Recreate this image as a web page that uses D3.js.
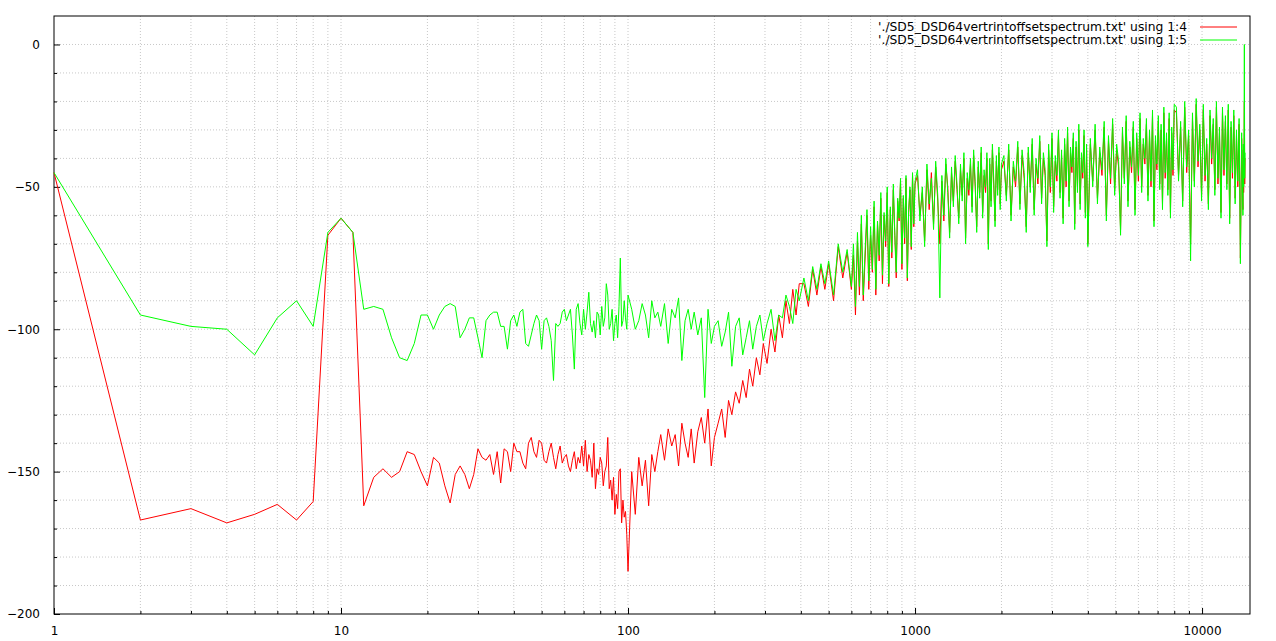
<!DOCTYPE html>
<html><head><meta charset="utf-8">
<script src="https://cdn.jsdelivr.net/npm/d3@7"></script>
<style>body{margin:0;background:#fff}text{font-family:"DejaVu Sans",sans-serif;font-size:12px}</style>
</head><body><svg id="c" width="1276" height="641"></svg>
<script>
// frequency bins, low part (shared by both series)
let freqLow = [
  1,2,3,4,5,6,7,8,9,10, 11,12,13,14,15,16,17,18,19,20,
  21,22,23,24,25,26,27,28,29,30, 31,32,33,34,35,36,37,38,39,40,
  41,42,43,44,45,46,47,48,49,50, 51,52,53,54,55,56,57,58,59,60,
  61,62,63,64,65,66,67,68,69,70, 71,72,73,74,75,76,77,78,79,80,
  81,82,83,84,85,86,87,88,89,90, 91,92,93,94,95,96,97,98,99,100,
  103,106,109,112,115,118,121,124,127,130, 134,138,142,146,150,154,158,162,166,170,
  175,180,185,190,195,200,206,212,218,224, 230,237,244,251,258,265,272,280,288,296,
  305,315,325,335,345,355,365,375,385,395, 410,425,440,455,470,485,500,520,540,560,
  580,600
];
// dense part
let freqHigh = [
  610,620,630,640,650,660,670,680,690,700, 710,720,730,740,750,760,770,780,790,800,
  810,820,830,840,850,860,870,880,890,900, 910,920,930,940,950,960,970,980,990,1000,
  1020,1040,1060,1080,1100,1120,1140,1160,1180,1200, 1220,1240,1260,1280,1300,1320,1340,1360,1380,1400,
  1420,1440,1460,1480,1500,1520,1540,1560,1580,1600, 1620,1640,1660,1680,1700,1720,1740,1760,1780,1800,
  1820,1840,1860,1880,1900,1920,1940,1960,1980,2000,
  2040,2080,2120,2160,2200,2240,2280,2320,2360,2400, 2440,2480,2520,2560,2600,2640,2680,2720,2760,2800,
  2840,2880,2920,2960,3000,3040,3080,3120,3160,3200, 3240,3280,3320,3360,3400,3440,3480,3520,3560,3600,
  3640,3680,3720,3760,3800,3840,3880,3920,3960,4000,
  4080,4160,4240,4320,4400,4480,4560,4640,4720,4800, 4880,4960,5040,5120,5200,5280,5360,5440,5520,5600,
  5680,5760,5840,5920,6000,6080,6160,6240,6320,6400, 6480,6560,6640,6720,6800,6880,6960,7040,7120,7200,
  7280,7360,7440,7520,7600,7680,7760,7840,7920,8000,
  8140,8280,8420,8560,8700,8840,8980,9120,9260,9400, 9540,9680,9820,9960,10100,10240,10380,10520,10660,10800,
  10940,11080,11220,11360,11500,11640,11780,11920,12060,12200, 12340,12480,12620,12760,12900,13040,13180,13320,13460,13600,
  13740,13880,13920,13960,14000,14040,14080,14120
];
let col4 = [
  -45,-167,-163,-168,-165,-161.5,-167,-160.5,-67,-61, -66,-162,-152,-149,-152,-150,-143,-144,-150,-155,
  -145,-147,-155,-161,-151,-148,-151,-156,-151,-142, -145,-146,-144,-151,-143,-154,-142,-143,-150,-140,
  -143,-143,-147,-149,-140,-138,-143,-145,-139,-140, -146,-147,-143,-140,-145,-149,-144,-141,-147,-145,
  -144,-148,-150,-146,-143,-149,-145,-147,-141,-148, -139,-150,-144,-146,-152,-140,-156,-149,-151,-145,
  -147,-155,-150,-148,-138,-156,-153,-160,-152,-165, -158,-163,-150,-149,-168,-160,-166,-164,-172,-185,
  -150,-165,-145,-155,-146,-162,-144,-150,-143,-137, -146,-135,-141,-137,-148,-133,-140,-145,-135,-147,
  -136,-131,-140,-128,-148,-138,-133,-128,-138,-125, -130,-122,-126,-118,-124,-114,-120,-110,-116,-105,
  -112,-100,-108,-95,-103,-90,-98,-86,-95,-84, -84,-92,-79,-88,-78,-86,-77,-90,-71,-82,
  -73,-86,
  -74,-95,-69,-88,-63,-90,-75,-60,-86,-67, -80,-57,-88,-63,-76,-54,-84,-60,-71,-52,
  -85,-58,-75,-51,-67,-82,-55,-62,-48,-79, -54,-70,-47,-83,-59,-51,-72,-46,-64,-49,
  -46,-60,-52,-69,-44,-58,-45,-63,-43,-55, -70,-48,-62,-42,-50,-66,-45,-55,-41,-51,
  -61,-44,-53,-40,-68,-47,-53,-42,-57,-39, -50,-64,-43,-52,-38,-59,-46,-52,-40,-70,
  -42,-55,-37,-49,-62,-41,-51,-38,-56,-44,
  -41,-53,-37,-60,-43,-50,-36,-56,-39,-47, -64,-38,-50,-35,-58,-42,-49,-34,-54,-40,
  -46,-69,-37,-52,-33,-57,-41,-48,-32,-52, -39,-61,-35,-50,-31,-55,-38,-45,-33,-63,
  -36,-50,-30,-56,-40,-47,-32,-59,-37,-70,
  -35,-48,-30,-54,-38,-46,-29,-60,-34,-49, -28,-51,-37,-43,-65,-31,-47,-27,-55,-36,
  -45,-29,-58,-33,-48,-26,-50,-35,-42,-28, -53,-32,-50,-25,-62,-34,-44,-27,-49,-30,
  -56,-24,-47,-33,-51,-26,-59,-31,-46,-23,
  -24,-46,-29,-55,-22,-45,-32,-70,-26,-48, -21,-43,-30,-53,-23,-48,-35,-56,-25,-42,
  -28,-51,-22,-49,-31,-59,-24,-46,-27,-49, -23,-61,-29,-47,-25,-54,-32,-50,-28,-75,
  -33,-58,-37,-52,-42,-20,-49,-40
];
let col5 = [
  -45,-95,-99,-100,-109,-96,-90,-99,-66,-61, -66,-93,-92,-93,-103,-110,-111,-105,-95,-95,
  -100,-95,-92,-91,-92,-103,-100,-96,-96,-103, -110,-97,-95,-94,-94,-99,-99,-107,-97,-95,
  -99,-94,-93,-105,-106,-102,-98,-95,-97,-107, -97,-96,-99,-104,-118,-98,-99,-98,-94,-93,
  -97,-95,-93,-102,-114,-93,-91,-98,-102,-93, -100,-94,-87,-98,-101,-97,-103,-94,-95,-102,
  -92,-99,-96,-84,-88,-100,-98,-93,-104,-98, -95,-103,-92,-75,-99,-97,-90,-96,-100,-88,
  -93,-100,-97,-91,-95,-103,-90,-96,-94,-99, -91,-105,-93,-96,-89,-111,-97,-93,-100,-94,
  -102,-96,-124,-93,-105,-99,-97,-106,-101,-94, -113,-99,-96,-109,-103,-97,-107,-99,-95,-104,
  -98,-93,-104,-95,-96,-88,-92,-98,-86,-90, -82,-90,-78,-86,-77,-84,-76,-88,-70,-80,
  -72,-85,
  -70,-92,-66,-85,-60,-88,-72,-58,-83,-64, -79,-55,-86,-62,-74,-52,-81,-59,-69,-50,
  -84,-57,-73,-49,-66,-80,-54,-61,-47,-77, -53,-68,-46,-82,-58,-50,-71,-45,-63,-48,
  -44,-62,-50,-71,-42,-56,-47,-65,-41,-53, -89,-46,-60,-40,-52,-68,-43,-57,-39,-49,
  -63,-42,-55,-38,-70,-45,-51,-40,-59,-37, -48,-66,-41,-54,-36,-61,-44,-50,-38,-72,
  -40,-57,-35,-47,-64,-39,-53,-36,-58,-42,
  -39,-55,-35,-62,-41,-48,-34,-58,-37,-45, -66,-36,-52,-33,-60,-40,-47,-32,-56,-38,
  -44,-71,-35,-50,-31,-59,-39,-46,-30,-54, -37,-63,-33,-48,-29,-57,-36,-43,-31,-65,
  -34,-52,-28,-58,-38,-45,-30,-61,-35,-71,
  -33,-50,-28,-56,-36,-44,-27,-62,-32,-47, -26,-53,-35,-41,-67,-29,-49,-25,-57,-34,
  -43,-27,-60,-31,-46,-24,-52,-33,-40,-26, -55,-30,-48,-23,-64,-32,-42,-25,-51,-28,
  -58,-22,-45,-31,-53,-24,-61,-29,-44,-21,
  -22,-48,-27,-57,-20,-43,-30,-76,-24,-50, -19,-41,-28,-55,-21,-46,-33,-58,-23,-40,
  -26,-53,-20,-47,-29,-61,-22,-44,-25,-51, -21,-63,-27,-45,-23,-56,-30,-48,-26,-77,
  -31,-60,-35,-50,-40,0,-47,-38
];
let seriesNames = ["'./SD5_DSD64vertrintoffsetspectrum.txt' using 1:4", "'./SD5_DSD64vertrintoffsetspectrum.txt' using 1:5"];
let seriesColors = ["#ff0000", "#00ff00"];
let xTicks = [1, 10, 100, 1000, 10000];
let yTicks = [0, -50, -100, -150, -200];

let freq = freqLow.concat(freqHigh);
let svg = d3.select("#c");
let L = 54, R = 1250, T = 16, B = 614;
let x = d3.scaleLog().domain([1, 14690]).range([L, R]);
let y = d3.scaleLinear().domain([-200, 10]).range([B, T]);

// grid
let minorX = [];
for (let d = 1; d <= 10000; d *= 10) for (let k = 1; k <= 9; k++) if (d * k <= 14690) minorX.push(d * k);
let gridY = d3.range(-190, 10, 10);
let g = svg.append("g").attr("stroke", "#c8c8c8").attr("stroke-dasharray", "1,2");
g.selectAll(".gx").data(minorX.filter(v => v > 1)).join("line")
  .attr("x1", d => x(d)).attr("x2", d => x(d)).attr("y1", T).attr("y2", B);
g.selectAll(".gy").data(gridY).join("line")
  .attr("x1", L).attr("x2", R).attr("y1", d => y(d)).attr("y2", d => y(d));

// axes (ticks inward)
let xa = svg.append("g").attr("transform", `translate(0,${B})`)
  .call(d3.axisBottom(x).tickValues(xTicks).tickFormat(d3.format("d")).tickSize(-6).tickPadding(12));
let xm = svg.append("g").attr("transform", `translate(0,${B})`)
  .call(d3.axisBottom(x).tickValues(minorX.filter(v => !xTicks.includes(v))).tickFormat("").tickSize(-3));
let ya = svg.append("g").attr("transform", `translate(${L},0)`)
  .call(d3.axisLeft(y).tickValues(yTicks).tickSize(-6).tickPadding(14));
let ym = svg.append("g").attr("transform", `translate(${L},0)`)
  .call(d3.axisLeft(y).tickValues(gridY.filter(v => v % 50 != 0)).tickFormat("").tickSize(-3));
[xa, xm, ya, ym].forEach(a => { a.select(".domain").remove(); a.selectAll("line").attr("stroke", "#000"); a.selectAll("text").attr("fill", "#000").style("font-size", "12px"); });
svg.append("rect").attr("x", L).attr("y", T).attr("width", R - L).attr("height", B - T)
  .attr("fill", "none").attr("stroke", "#000");

// series
let data = [col4, col5];
data.forEach((vals, i) => {
  svg.append("path").datum(vals.map((v, j) => [freq[j], v]))
    .attr("fill", "none").attr("stroke", seriesColors[i]).attr("stroke-width", 1)
    .attr("d", d3.line().x(d => x(d[0])).y(d => y(d[1])));
});

// legend
seriesNames.forEach((n, i) => {
  let ly = 27 + i * 13;
  svg.append("text").attr("x", 1187).attr("y", ly + 4).attr("text-anchor", "end")
    .style("font-size", "12.3px").text(n);
  svg.append("line").attr("x1", 1200).attr("x2", 1237).attr("y1", ly).attr("y2", ly)
    .attr("stroke", seriesColors[i]);
});
</script></body></html>
